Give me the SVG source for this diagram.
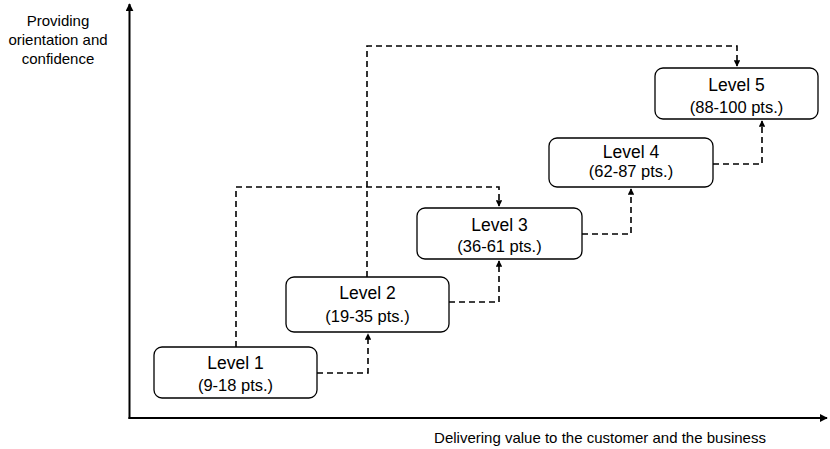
<svg xmlns="http://www.w3.org/2000/svg" width="830" height="449" viewBox="0 0 830 449">
  <style>
    .axis { stroke: #000; stroke-width: 2; fill: none; }
    .box { fill: #fff; stroke: #000; stroke-width: 1.3; }
    .link { stroke: #000; stroke-width: 1.6; fill: none; stroke-dasharray: 6 4; }
    .t1 { font-family: "Liberation Sans", Arial, sans-serif; font-size: 17.5px; fill: #000; text-anchor: middle; }
    .t2 { font-family: "Liberation Sans", Arial, sans-serif; font-size: 16.5px; fill: #000; text-anchor: middle; }
    .lab { font-family: "Liberation Sans", Arial, sans-serif; font-size: 15px; fill: #000; text-anchor: middle; }
  </style>
  <defs>
    <marker id="axisHead" viewBox="0 0 10 10" refX="9" refY="5" markerWidth="4" markerHeight="4" orient="auto" markerUnits="strokeWidth">
      <path d="M0,0 L10,5 L0,10 Z" fill="#000"/>
    </marker>
    <marker id="linkHead" viewBox="0 0 10 10" refX="9" refY="5" markerWidth="4" markerHeight="4" orient="auto" markerUnits="strokeWidth">
      <path d="M0,0 L10,5 L0,10 Z" fill="#000"/>
    </marker>
  </defs>

  <rect width="830" height="449" fill="#fff"/>

  <!-- axes -->
  <g id="axes">
    <line class="axis" x1="129.5" y1="419" x2="129.5" y2="4" marker-end="url(#axisHead)"/>
    <line class="axis" x1="128.5" y1="418" x2="827" y2="418" marker-end="url(#axisHead)"/>
    <text class="lab" x="58" y="26">Providing</text>
    <text class="lab" x="58" y="45">orientation and</text>
    <text class="lab" x="58" y="64">confidence</text>
    <text class="lab" x="600" y="443">Delivering value to the customer and the business</text>
  </g>

  <!-- dashed connectors -->
  <g id="connectors">
    <polyline class="link" points="236,347 236,187 499,187 499,206" marker-end="url(#linkHead)"/>
    <polyline class="link" points="367,277 367,46 737,46 737,66" marker-end="url(#linkHead)"/>
    <polyline class="link" points="317,373 368,373 368,334" marker-end="url(#linkHead)"/>
    <polyline class="link" points="449,302 499,302 499,261" marker-end="url(#linkHead)"/>
    <polyline class="link" points="582,234 631,234 631,189" marker-end="url(#linkHead)"/>
    <polyline class="link" points="713,164 762,164 762,121" marker-end="url(#linkHead)"/>
  </g>

  <g id="level1">
    <rect class="box" x="154" y="347" width="163" height="51" rx="8"/>
    <text class="t1" x="235.5" y="369">Level 1</text>
    <text class="t2" x="235.5" y="391">(9-18 pts.)</text>
  </g>
  <g id="level2">
    <rect class="box" x="286" y="277" width="163" height="55" rx="8"/>
    <text class="t1" x="367.5" y="299">Level 2</text>
    <text class="t2" x="367.5" y="322">(19-35 pts.)</text>
  </g>
  <g id="level3">
    <rect class="box" x="417" y="208" width="165" height="51" rx="8"/>
    <text class="t1" x="499.5" y="231">Level 3</text>
    <text class="t2" x="499.5" y="252">(36-61 pts.)</text>
  </g>
  <g id="level4">
    <rect class="box" x="549" y="138" width="164" height="49" rx="8"/>
    <text class="t1" x="631" y="158">Level 4</text>
    <text class="t2" x="631" y="177">(62-87 pts.)</text>
  </g>
  <g id="level5">
    <rect class="box" x="655" y="68" width="163" height="51" rx="8"/>
    <text class="t1" x="736.5" y="91">Level 5</text>
    <text class="t2" x="736.5" y="113">(88-100 pts.)</text>
  </g>
</svg>
